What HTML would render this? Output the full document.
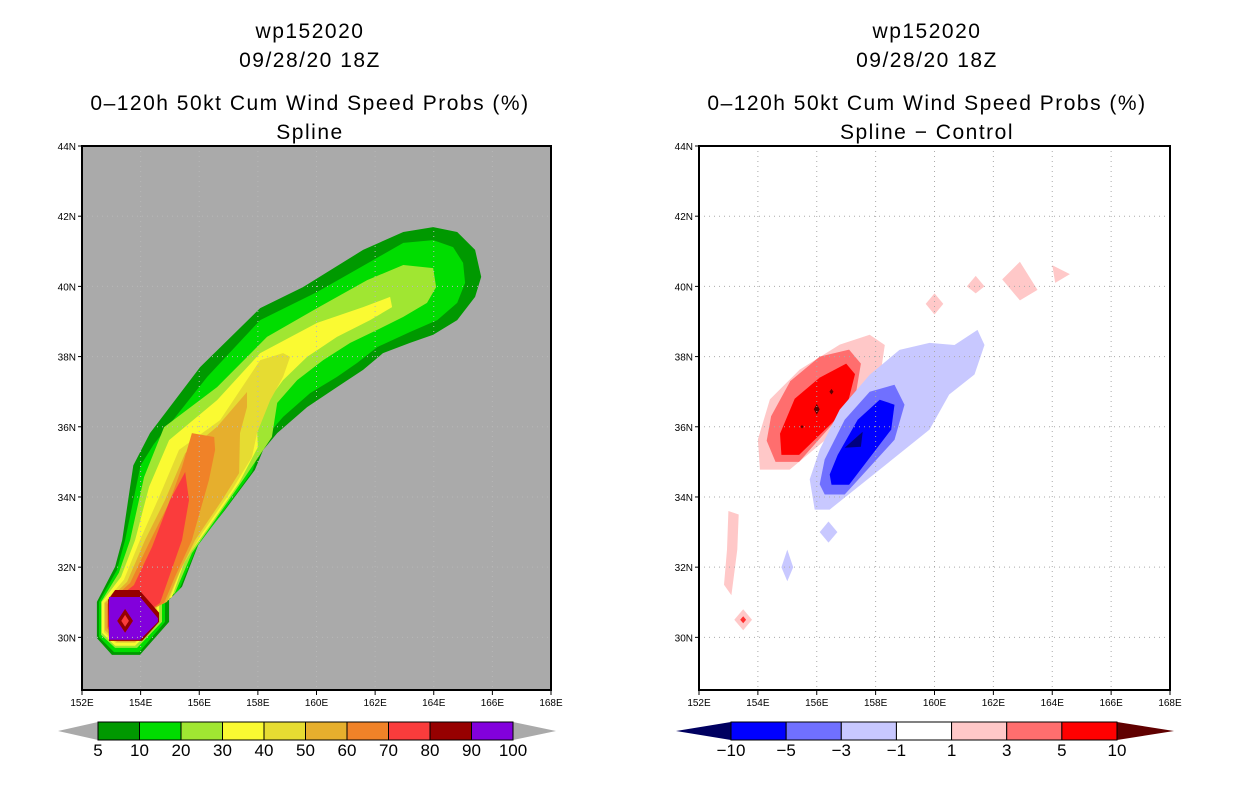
<!DOCTYPE html>
<html><head><meta charset="utf-8"><style>
body{margin:0;background:#fff;}
svg{display:block;font-family:"Liberation Sans",sans-serif;}
.t{font-size:21px;text-anchor:middle;letter-spacing:1.5px}
.ax{font-size:10px;text-anchor:middle}
.ay{font-size:10px;text-anchor:end}
.cb{font-size:17px;text-anchor:middle}
</style></head><body>
<svg id="s" width="1236" height="800" viewBox="0 0 1236 800">
<text class="t" x="310" y="38">wp152020</text>
<text class="t" x="310" y="67">09/28/20 18Z</text>
<text class="t" x="310" y="110">0–120h 50kt Cum Wind Speed Probs (%)</text>
<text class="t" x="310" y="139">Spline</text>
<text class="t" x="927" y="38">wp152020</text>
<text class="t" x="927" y="67">09/28/20 18Z</text>
<text class="t" x="927" y="110">0–120h 50kt Cum Wind Speed Probs (%)</text>
<text class="t" x="927" y="139">Spline − Control</text>
<g id="L"></g>
<g id="R"></g>
<g id="CB"></g>
</svg>
<script>
const lonTicks=[152,154,156,158,160,162,164,166,168];
const latTicks=[30,32,34,36,38,40,42,44];
const probLevels=["5","10","20","30","40","50","60","70","80","90","100"];
const probColors=["#009900","#00dd00","#a0e632","#fafa32","#e6dc32","#e6af2d","#f08228","#fa3c3c","#960000","#8200dc"];
const diffLevels=["−10","−5","−3","−1","1","3","5","10"];
const diffColors=["#0000ff","#7070ff","#c8c8ff","#ffffff","#ffc8c8","#ff6e6e","#ff0000"];
const p5=[[152.51,31.01],[153.13,32.01],[153.37,32.77],[153.75,34.9],[154.32,35.82],[156.03,37.70],[158.08,39.38],[159.54,39.98],[161.59,41.04],[162.96,41.55],[163.98,41.69],[164.80,41.55],[165.41,41.04],[165.62,40.27],[165.41,39.70],[164.80,39.04],[163.98,38.62],[163.19,38.39],[162.27,38.10],[161.59,37.62],[160.70,37.13],[159.68,36.56],[158.66,35.82],[158.18,35.34],[157.90,34.77],[156.88,33.63],[155.99,32.69],[155.41,31.44],[154.97,31.07],[154.97,30.44],[153.98,29.50],[153.02,29.50],[152.51,29.98]];
const p10=[[152.58,31.01],[153.19,31.92],[153.47,32.77],[154.0,34.9],[154.45,35.5],[156.27,37.42],[158.08,39.04],[160.02,39.84],[161.93,40.75],[162.96,41.24],[163.98,41.32],[164.66,41.12],[165.00,40.67],[165.07,40.10],[164.80,39.53],[164.12,39.04],[163.19,38.70],[162.07,38.27],[161.39,37.82],[160.70,37.42],[159.78,36.96],[158.86,36.28],[158.18,35.62],[157.80,34.71],[156.78,33.54],[155.92,32.58],[155.31,31.35],[154.83,31.01],[154.83,30.44],[153.95,29.58],[153.09,29.58],[152.58,30.01]];
const p20=[[152.65,31.01],[153.26,31.84],[153.64,32.77],[154.12,34.57],[154.80,35.99],[156.61,37.13],[158.31,38.56],[160.02,39.38],[161.73,40.18],[162.96,40.61],[163.98,40.52],[164.08,39.98],[163.77,39.53],[162.96,39.13],[162.07,38.76],[161.15,38.39],[160.23,37.90],[159.34,37.33],[158.66,36.68],[158.48,35.71],[157.56,34.57],[156.54,33.34],[155.75,32.40],[155.17,31.26],[154.73,30.95],[154.73,30.44],[153.88,29.70],[153.13,29.70],[152.65,30.07]];
const p30=[[152.68,31.01],[153.33,31.72],[153.81,32.77],[154.29,34.29],[154.97,35.62],[156.61,36.76],[158.08,38.10],[160.02,38.96],[161.59,39.41],[162.51,39.70],[162.58,39.41],[161.83,39.04],[160.70,38.56],[159.68,37.99],[158.86,37.33],[158.18,36.56],[157.97,35.99],[158.0,35.42],[157.36,34.40],[156.33,33.15],[155.52,32.21],[155.07,31.15],[154.63,30.89],[154.63,30.44],[153.81,29.76],[153.13,29.76],[152.68,30.13]];
const p40=[[152.75,30.98],[153.43,31.64],[153.98,32.77],[154.63,34.00],[155.31,35.34],[156.71,36.19],[158.08,37.90],[158.86,38.10],[159.10,37.99],[158.86,37.42],[158.42,36.76],[157.97,35.82],[157.80,35.14],[157.12,34.20],[156.10,32.97],[155.41,32.01],[154.97,31.07],[154.56,30.87],[154.56,30.44],[153.81,29.84],[153.16,29.84],[152.75,30.15]];
const p50=[[152.78,30.98],[153.54,31.58],[154.15,32.77],[154.83,33.91],[155.52,35.25],[156.61,36.00],[157.63,36.99],[157.63,36.56],[157.39,35.82],[157.36,34.68],[156.78,33.91],[155.86,32.77],[155.31,31.83],[154.90,31.01],[154.49,30.84],[154.49,30.44],[153.81,29.87],[153.19,29.87],[152.78,30.21]];
const p60=[[152.85,30.95],[153.64,31.55],[154.29,32.69],[154.97,33.83],[155.41,34.85],[155.75,35.82],[156.51,35.71],[156.54,35.34],[156.33,34.48],[155.75,32.77],[155.17,31.72],[154.80,30.98],[154.42,30.81],[154.42,30.44],[153.81,29.93],[153.19,29.93],[152.85,30.27]];
const p70=[[152.89,30.92],[153.77,31.49],[154.39,32.58],[155.00,33.91],[155.52,34.71],[155.65,33.91],[155.41,32.77],[154.97,31.72],[154.66,30.98],[154.32,30.78],[154.32,30.44],[153.81,29.98],[153.23,29.98],[152.89,30.30]];
const p80=[[152.89,31.07],[153.13,31.35],[153.95,31.35],[154.63,30.70],[154.63,30.44],[154.05,29.90],[152.92,29.90]];
const p90=[[152.92,31.15],[153.98,31.15],[154.59,30.55],[154.59,30.44],[153.98,29.93],[152.92,29.93]];
const p80b=[[153.47,30.81],[153.74,30.47],[153.47,30.13],[153.20,30.47]];
const p70b=[[153.47,30.64],[153.60,30.47],[153.47,30.30],[153.34,30.47]];
const leftPolys=[p5,p10,p20,p30,p40,p50,p60,p70,p80,p90,p80b,p70b];
const leftIdx=[0,1,2,3,4,5,6,7,8,9,8,7];
const d1=[[154.07,34.78],[155.08,34.78],[157.12,36.2],[158.14,37.34],[158.31,38.33],[157.8,38.62],[156.78,38.34],[155.42,37.63],[154.41,36.78],[154.0,35.64]];
const d3=[[154.6,35.0],[155.4,35.0],[157.3,36.8],[157.5,37.8],[157.1,38.2],[156.1,38.0],[155.1,37.3],[154.45,36.3],[154.3,35.6]];
const d5=[[154.8,35.2],[155.4,35.2],[157.0,36.5],[157.3,37.5],[157.0,37.8],[156.1,37.4],[155.25,36.8],[154.75,35.8]];
const n1=[[155.93,33.64],[156.44,33.64],[158.14,34.78],[159.83,35.92],[160.5,36.92],[161.36,37.49],[161.7,38.33],[161.46,38.76],[160.68,38.33],[159.83,38.39],[158.81,38.19],[157.8,37.48],[156.78,36.49],[156.1,35.35],[155.76,34.5]];
const n3=[[156.27,34.07],[156.95,34.07],[158.64,35.63],[158.98,36.63],[158.64,37.2],[157.8,37.0],[156.95,36.2],[156.27,35.07],[156.1,34.36]];
const n5=[[156.5,34.35],[157.1,34.35],[158.53,35.92],[158.64,36.63],[158.14,36.77],[157.39,36.2],[156.71,35.2],[156.44,34.64]];
const n10=[[156.95,35.4],[157.56,35.86],[157.5,35.43]];
const s1=[[153.0,33.6],[153.35,33.5],[153.3,32.5],[153.1,31.2],[152.85,31.5],[152.95,32.5]];
const s2=[[153.5,30.8],[153.8,30.5],[153.5,30.2],[153.2,30.5]];
const s3=[[153.5,30.6],[153.6,30.5],[153.5,30.4],[153.4,30.5]];
const s4=[[160.0,39.8],[160.3,39.5],[160.0,39.2],[159.7,39.5]];
const s5=[[161.4,40.3],[161.7,40.0],[161.4,39.8],[161.1,40.0]];
const s6=[[162.3,40.2],[162.9,40.7],[163.5,39.9],[162.9,39.6]];
const s7=[[164.0,40.6],[164.6,40.35],[164.1,40.1]];
const s8=[[156.4,33.3],[156.7,33.0],[156.4,32.7],[156.1,33.0]];
const s9=[[155.0,32.5],[155.2,32.0],[155.0,31.6],[154.8,32.0]];
const dk1=[[156.0,36.65],[156.1,36.5],[156.0,36.35],[155.9,36.5]];
const dk2=[[156.5,37.08],[156.57,37.0],[156.5,36.92],[156.43,37.0]];
const dk3=[[155.5,36.05],[155.55,36.0],[155.5,35.95],[155.45,36.0]];
const rightPolys=[d1,d3,d5,n1,n3,n5,n10,s1,s2,s3,s4,s5,s6,s7,s8,s9,dk1,dk2,dk3];
const rightFill=["#ffc8c8","#ff6e6e","#ff0000","#c8c8ff","#7070ff","#0000ff","#000080","#ffc8c8","#ffc8c8","#ff3030","#ffc8c8","#ffc8c8","#ffc8c8","#ffc8c8","#c8c8ff","#c8c8ff","#600000","#600000","#600000"];

const NS="http://www.w3.org/2000/svg";
function mk(p,tag,a){const e=document.createElementNS(NS,tag);for(const k in a)e.setAttribute(k,a[k]);p.appendChild(e);return e;}
function axes(x0,x1){const y0=146,y1=690;return{x:l=>x0+(l-152)*(x1-x0)/16,y:l=>y0+(44-l)*(y1-y0)/15.5,x0,x1,y0,y1};}
const A=axes(82,551),B=axes(699,1170);
function pts(ax,poly){return poly.map(p=>ax.x(p[0]).toFixed(1)+","+ax.y(p[1]).toFixed(1)).join(" ");}
function frame(g,ax,bg,gridColor){
 const r=mk(g,"rect",{x:ax.x0,y:ax.y0,width:ax.x1-ax.x0,height:ax.y1-ax.y0,fill:bg});
 
 
 return ()=>{
 lonTicks.forEach(l=>{const x=ax.x(l);
  if(l>152&&l<168){const gl=mk(g,"line",{x1:x,x2:x,y1:ax.y0,y2:ax.y1,stroke:gridColor,"stroke-dasharray":"1,4"});}
  mk(g,"line",{x1:x,x2:x,y1:ax.y1,y2:ax.y1+5,stroke:"#000"});
  const t=mk(g,"text",{class:"ax",x:x,y:ax.y1+16});t.textContent=l+"E";
  });
 latTicks.forEach(l=>{const y=ax.y(l);
  if(l<44){const gl=mk(g,"line",{x1:ax.x0,x2:ax.x1,y1:y,y2:y,stroke:gridColor,"stroke-dasharray":"1,4"});}
  mk(g,"line",{x1:ax.x0-4,x2:ax.x0,y1:y,y2:y,stroke:"#000"});
  const t=mk(g,"text",{class:"ay",x:ax.x0-6,y:y+4});t.textContent=l+"N";
  });
 mk(g,"rect",{x:ax.x0,y:ax.y0,width:ax.x1-ax.x0,height:ax.y1-ax.y0,fill:"none",stroke:"#000","stroke-width":2});
 };}
const L=document.getElementById("L"),R=document.getElementById("R");
const fl=frame(L,A,"#aaaaaa","#b8b8b8");
leftPolys.forEach((p,i)=>{const e=mk(L,"polygon",{points:pts(A,p),fill:probColors[leftIdx[i]]});
 
 });
fl();
const fr=frame(R,B,"#ffffff","#aaaaaa");
rightPolys.forEach((p,i)=>{const e=mk(R,"polygon",{points:pts(B,p),fill:rightFill[i]});
 
 });
fr();
const CB=document.getElementById("CB");
function bar(x0,x1,tip0,tip1,cols,labs,lc,rc){
 const y0=722,y1=740,n=cols.length,w=(x1-x0)/n;
 mk(CB,"polygon",{points:`${tip0},731 ${x0},${y0} ${x0},${y1}`,fill:lc});
 mk(CB,"polygon",{points:`${tip1},731 ${x1},${y0} ${x1},${y1}`,fill:rc});
 cols.forEach((c,i)=>{const r=mk(CB,"rect",{x:x0+i*w,y:y0,width:w,height:y1-y0,fill:c,stroke:"#000","stroke-width":1});
  });
 labs.forEach((l,i)=>{const t=mk(CB,"text",{class:"cb",x:x0+i*w,y:756});t.textContent=l;
  });
}
bar(98,513,58,556,probColors,probLevels,"#aaaaaa","#aaaaaa");
bar(731,1117,676,1174,diffColors,diffLevels,"#000060","#600000");
</script>
</body></html>
